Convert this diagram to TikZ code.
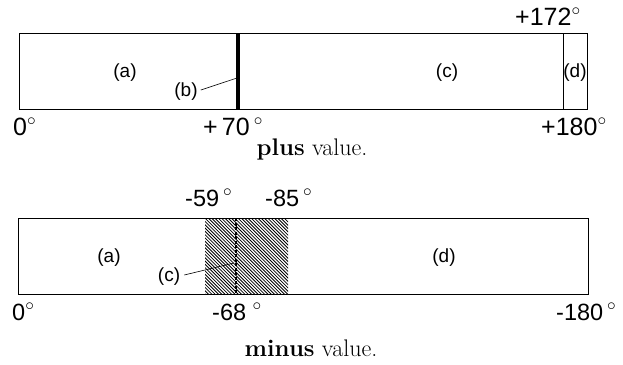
\documentclass[tikz,border=0pt]{standalone}
\usepackage{fontspec}
\setsansfont{Liberation Sans}
\begin{document}
\begin{tikzpicture}[x=1pt,y=-1pt,
  box/.style={draw=black,line width=1pt},
  seg/.style={inner sep=0pt,font=\sffamily\fontsize{19}{22}\selectfont},
  deg/.style={inner sep=0pt,anchor=base west,font=\sffamily\fontsize{25}{29}\selectfont},
  degm/.style={inner sep=0pt,anchor=base west,font=\sffamily\fontsize{23.5}{27}\selectfont},
  captext/.style={inner sep=0pt,anchor=base,font=\fontsize{24}{28}\selectfont},
  leader/.style={draw=black,line width=0.6pt}]
\useasboundingbox (0,0) rectangle (623,364);
% ---------- plus value ----------
\draw[box] (19,33) rectangle (587,109);
\draw[line width=0.8pt] (563,33) -- (563,109);
\draw[line width=3.2pt] (238,33) -- (238,109);
\node[seg] (pa) at (125,73) {(a)};
\node[seg] (pb) at (186,92) {(b)};
\node[seg] (pc) at (447,73) {(c)};
\node[seg] (pd) at (575,73) {(d)};
\coordinate (pbend) at (237,78);
\draw[leader] (pb.east) ++(3,-2) coordinate (pbstart) (pbstart) -- (pbend);
\node[deg] (p172) at (515,25) {+172$^{\circ}$};
\node[deg] (p0) at (13,135) {0$^{\circ}$};
\node[deg] (p70) at (203,135) {+\,70\,$^{\circ}$};
\node[deg] (p180) at (541,135) {+180$^{\circ}$};
\node[captext] (pcap) at (312,155) {\textbf{plus} value.};
% ---------- minus value ----------
\draw[box] (18,218) rectangle (588,294);
\begin{scope}
  \clip (205,218) rectangle (288,294);
  \foreach \i in {0,...,50}
    \draw[line width=0.8pt] (129+\i*3.3,218) -- ++(77,77);
\end{scope}
\draw[line width=2pt,dash pattern=on 3pt off 1.5pt] (236,218) -- (236,294);
\node[seg] (ma) at (109,258) {(a)};
\node[seg] (mc) at (169,277) {(c)};
\node[seg] (md) at (444,258) {(d)};
\coordinate (mcend) at (234,263);
\draw[leader] (mc.east) ++(4,-2) coordinate (mcstart) (mcstart) -- (mcend);
\node[degm] (m59) at (185,206) {-59\,$^{\circ}$};
\node[degm] (m85) at (265,206) {-85\,$^{\circ}$};
\node[degm] (m0) at (12,320) {0$^{\circ}$};
\node[degm] (m68) at (212,320) {-68\;$^{\circ}$};
\node[degm] (m180) at (556,320) {-180\,$^{\circ}$};
\node[captext] (mcap) at (311,356) {\textbf{minus} value.};
\end{tikzpicture}
\end{document}
